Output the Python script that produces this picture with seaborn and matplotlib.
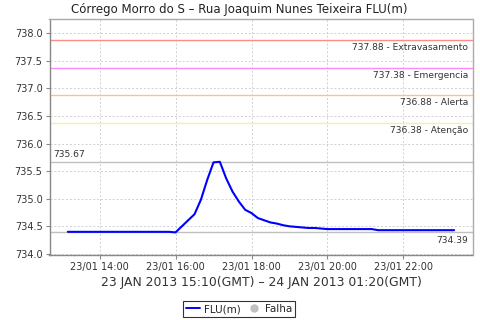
import matplotlib
matplotlib.use("Agg")
import matplotlib.pyplot as plt
import matplotlib.dates as mdates
from matplotlib.lines import Line2D
import numpy as np
import pandas as pd
import seaborn as sns

# ---- data ----
start_time = "2013-01-23 13:10"
flu_values = [
    734.40, 734.40, 734.40, 734.40, 734.40, 734.40, 734.40, 734.40, 734.40,  # 13:10-14:30
    734.40, 734.40, 734.40, 734.40, 734.40, 734.40, 734.40, 734.40,          # 14:40-15:50
    734.39, 734.50, 734.61, 734.72, 734.98, 735.34, 735.66, 735.67,          # 16:00-17:10
    735.37, 735.13, 734.95, 734.80, 734.74, 734.65, 734.61, 734.57,          # 17:20-18:30
    734.55, 734.52, 734.50, 734.49, 734.48, 734.47, 734.47, 734.46,          # 18:40-19:50
    734.45, 734.45, 734.45, 734.45, 734.45, 734.45, 734.45, 734.45,          # 20:00-21:10
    734.43, 734.43, 734.43, 734.43, 734.43, 734.43, 734.43, 734.43,          # 21:20-22:30
    734.43, 734.43, 734.43, 734.43, 734.43,                                  # 22:40-23:20
]
times = pd.date_range(start_time, periods=len(flu_values), freq="10min")
threshold_values = [737.88, 737.38, 736.88, 736.38]
threshold_names = ["Extravasamento", "Emergencia", "Alerta", "Atenção"]
threshold_colors = ["#ff8a8a", "#ff88ff", "#ffc080", "#f8f0a0"]
max_value = 735.67
min_value = 734.39
title = "Córrego Morro do S – Rua Joaquim Nunes Teixeira FLU(m)"
xlabel = "23 JAN 2013 15:10(GMT) – 24 JAN 2013 01:20(GMT)"
xtick_times = ["2013-01-23 14:00", "2013-01-23 16:00", "2013-01-23 18:00",
               "2013-01-23 20:00", "2013-01-23 22:00"]

df = pd.DataFrame({"time": times, "FLU(m)": flu_values})

sns.set_theme(style="white")
plt.rcParams["font.family"] = ["DejaVu Sans"]

fig = plt.figure(figsize=(4.8, 3.2), dpi=100)
ax = fig.add_axes([49.5 / 480, 1 - 255 / 320, (472.5 - 49.5) / 480, (255 - 19) / 320])

sns.lineplot(data=df, x="time", y="FLU(m)", ax=ax, color="#0000ff", lw=1.5)

trans = ax.get_yaxis_transform()
for v, n, c in zip(threshold_values, threshold_names, threshold_colors):
    ax.axhline(v, color=c, lw=1.0, zorder=1)
    ax.text(0.99, v - 0.06, f"{v:.2f} - {n}", transform=trans, ha="right", va="top",
            fontsize=6.6, color="#333333")
ax.axhline(max_value, color="#c0c0c0", lw=1.0, zorder=1)
ax.text(0.01, max_value + 0.06, f"{max_value:.2f}", transform=trans, ha="left", va="bottom",
        fontsize=6.6, color="#333333")
ax.axhline(min_value, color="#c0c0c0", lw=1.0, zorder=1)
ax.text(0.99, min_value - 0.07, f"{min_value:.2f}", transform=trans, ha="right", va="top",
        fontsize=6.6, color="#333333")

ax.set_ylim(733.98, 738.26)
ax.set_xlim(pd.Timestamp("2013-01-23 12:41"), pd.Timestamp("2013-01-23 23:49"))
ax.set_yticks(np.arange(734.0, 738.01, 0.5))
ax.yaxis.set_major_formatter(matplotlib.ticker.FormatStrFormatter("%.1f"))
ax.set_xticks(pd.to_datetime(xtick_times))
ax.xaxis.set_major_formatter(mdates.DateFormatter("%d/%m %H:%M"))

ax.grid(True, color="#d0d0d0", linestyle=(0, (2, 2)), lw=0.7)
ax.set_axisbelow(True)
ax.tick_params(axis="both", labelsize=7, colors="#333333", length=3, width=0.8,
               direction="out", pad=2, left=True, bottom=True)
ax.tick_params(axis="both", color="#888888")
for s in ["left", "bottom"]:
    ax.spines[s].set_color("#888888")
for s in ["top", "right"]:
    ax.spines[s].set_color("#aaaaaa")
for s in ax.spines.values():
    s.set_linewidth(1.0)

ax.set_ylabel("")
ax.set_xlabel(xlabel, fontsize=8.9, color="#333333", labelpad=3)
fig.suptitle(title, x=239 / 480, y=1 - 9 / 320, va="center", fontsize=8.5, color="#222222")

handles = [Line2D([], [], color="#0000ff", lw=1.4),
           Line2D([], [], color="#c0c0c0", marker="o", lw=0, markersize=5)]
leg = fig.legend(handles, ["FLU(m)", "Falha"], loc="center", bbox_to_anchor=(239 / 480, 1 - 309 / 320),
                 ncol=2, frameon=True, fancybox=False, fontsize=7.5, handlelength=1.4,
                 handletextpad=0.4, columnspacing=0.5, borderpad=0.3, edgecolor="black")
leg.get_frame().set_linewidth(0.8)

fig.savefig("out.png", dpi=100)
